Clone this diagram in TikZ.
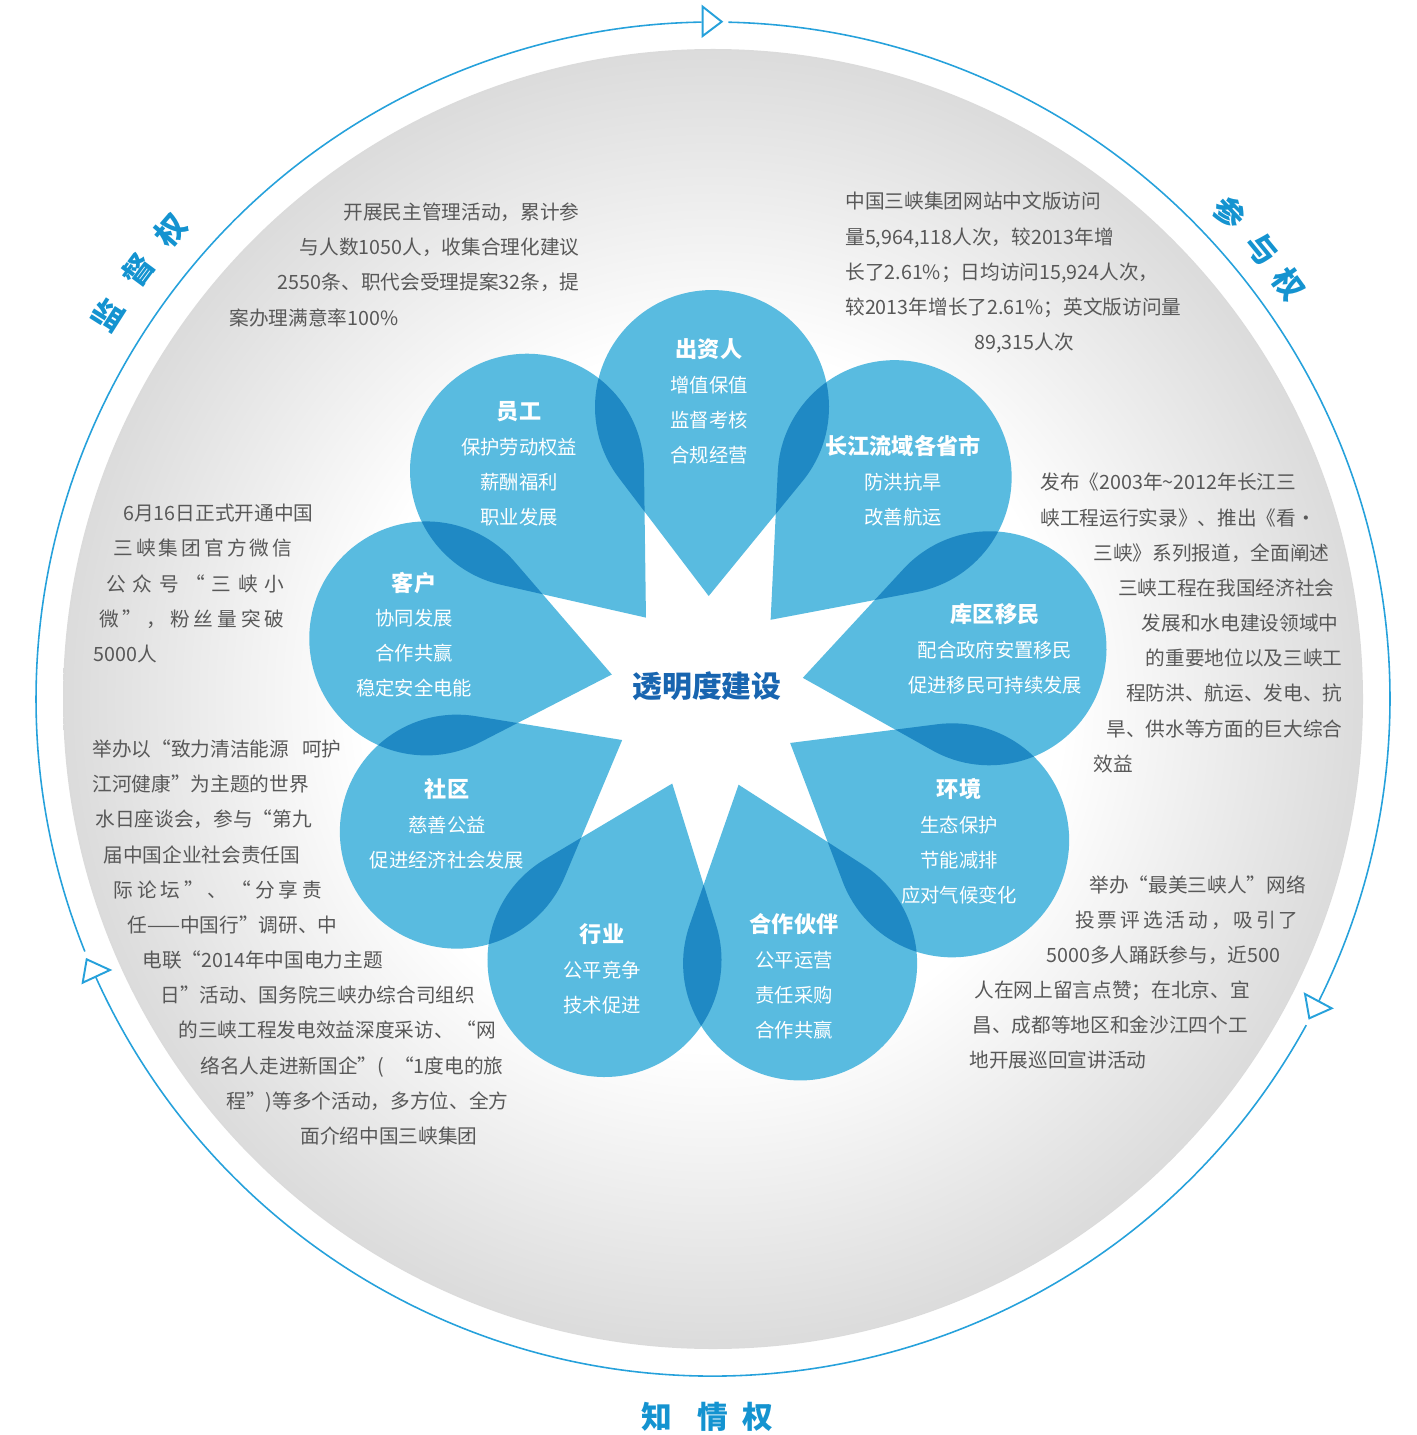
\documentclass[tikz,border=0pt]{standalone}
\usepackage{fontspec}
\setmainfont{Noto Sans CJK SC}
\usepackage{tikz}
\usetikzlibrary{calc}
\definecolor{ringblue}{RGB}{38,161,219}
\definecolor{labelblue}{RGB}{20,147,208}
\definecolor{petalblue}{RGB}{89,187,224}
\definecolor{coreblue}{RGB}{24,101,176}
\definecolor{notegray}{RGB}{88,88,88}
\pgfdeclareradialshading{discshade}{\pgfpoint{0bp}{0bp}}{color(0bp)=(white); color(13.5bp)=(white); color(25bp)=(black!14); color(50bp)=(black!14)}
\tikzstyle{ring}=[draw=ringblue, line width=0.9pt]
\tikzstyle{tri}=[draw=ringblue, fill=white, line width=1.1pt, line join=miter]
\tikzstyle{petal}=[fill=petalblue]
\tikzstyle{ptext}=[text=white, align=center, inner sep=0pt, font=\fontsize{11}{19.84}\selectfont]
\tikzstyle{note}=[text=notegray, inner sep=0pt, font=\fontsize{11.2}{13}\selectfont, text height=9.4pt, text depth=1.3pt]
\tikzstyle{ringlabel}=[text=labelblue, inner sep=0pt, font=\fontsize{17.5}{20}\selectfont\bfseries]
\newcommand{\ptitle}[1]{{\fontsize{12.6}{19.84}\selectfont\bfseries #1}}

\begin{document}
\begin{tikzpicture}[x=0.02cm, y=0.02cm]
    \useasboundingbox (0,0) rectangle (1416,-1435);
    \coordinate (O) at (713,-699);
    \coordinate (C0) at (707,-693);

    % grey disc
    \shade[shading=discshade] (O) circle[radius=650];

    % outer ring, three open triangles
    \draw[ring] ($(O)+(88.7:677)$) arc[start angle=88.7, end angle=-26.5, radius=677];
    \draw[ring] ($(O)+(-28.8:677)$) arc[start angle=-28.8, end angle=-155.75, radius=677];
    \draw[ring] ($(O)+(201.9:677)$) arc[start angle=201.9, end angle=90.96, radius=677];
    \draw[tri] (702.7,-6.7) -- (721.7,-21.7) -- (702.7,-36) -- cycle;
    \draw[tri] (86.7,-959.3) -- (110,-970) -- (82.7,-982.7) -- cycle;
    \draw[tri] (1305,-994) -- (1331.7,-1008.3) -- (1309.3,-1018.3) -- cycle;

    % ring labels
    \foreach \ch/\a/\r [count=\i] in {监/147.6/57.6, 督/143.3/53.3, 权/139.2/49.2}
        \node[ringlabel, rotate=\r] (jd\i) at ($(O)+(\a:717)$) {\ch};
    \foreach \ch/\a/\r [count=\i] in {参/43.3/-46.7, 与/39.3/-50.7, 权/35.8/-54.2}
        \node[ringlabel, rotate=\r] (cy\i) at ($(O)+(\a:710)$) {\ch};
    \foreach \ch/\x [count=\i] in {知/657, 情/713, 权/758}
        \node[ringlabel] (zq\i) at (\x,-1417) {\ch};

    % petals
    \begin{scope}[blend group=multiply]
        \foreach \a in {89,49,...,-231}
            \fill[petal, shift={(C0)}, rotate=\a] (97,0) -- (213.65,-91.95)
                arc[start angle=-128.2, end angle=128.2, radius=117] -- cycle;
    \end{scope}

    \node[text=coreblue, font=\fontsize{17}{20}\selectfont\bfseries] (core) at (707,-686) {透明度建设};

    \node[ptext] (investor) at (709,-401.5) {\ptitle{出资人}\\增值保值\\监督考核\\合规经营};
    \node[ptext] (staff) at (519,-464) {\ptitle{员工}\\保护劳动权益\\薪酬福利\\职业发展};
    \node[ptext] (province) at (903,-481) {\ptitle{长江流域各省市}\\防洪抗旱\\改善航运};
    \node[ptext] (migrant) at (995,-648.5) {\ptitle{库区移民}\\配合政府安置移民\\促进移民可持续发展};
    \node[ptext] (environ) at (959,-841) {\ptitle{环境}\\生态保护\\节能减排\\应对气候变化};
    \node[ptext] (partner) at (794,-976) {\ptitle{合作伙伴}\\公平运营\\责任采购\\合作共赢};
    \node[ptext] (industry) at (602,-969) {\ptitle{行业}\\公平竞争\\技术促进};
    \node[ptext] (community) at (447,-824) {\ptitle{社区}\\慈善公益\\促进经济社会发展};
    \node[ptext] (customer) at (414,-634.5) {\ptitle{客户}\\协同发展\\合作共赢\\稳定安全电能};

    % grey notes
    \foreach \an/\x/\y/\t [count=\i] in {
        east/580/212/{开展民主管理活动，累计参},
        east/580/247/{与人数1050人，收集合理化建议},
        east/580/282/{2550条、职代会受理提案32条，提},
        west/229/318/{案办理满意率100\%}}
        \node[note, anchor=\an] (dm\i) at (\x,-\y) {\t};

    \foreach \an/\x/\y/\t [count=\i] in {
        west/845/201/{中国三峡集团网站中文版访问},
        west/845/237/{量5,964,118人次，较2013年增},
        west/845/272/{长了2.61\%；日均访问15,924人次，},
        west/845/307/{较2013年增长了2.61\%；英文版访问量},
        center/1024/342/{89,315人次}}
        \node[note, anchor=\an] (web\i) at (\x,-\y) {\t};

    \foreach \an/\x/\y/\t [count=\i] in {
        west/123/513/{6月16日正式开通中国},
        west/113/548/{\makebox[3.58cm][s]{三 峡 集 团 官 方 微 信}},
        west/106/584/{\makebox[3.56cm][s]{公 众 号 “ 三 峡 小}},
        west/99/619/{\makebox[3.7cm][s]{微 ” ， 粉 丝 量 突 破}},
        west/93/654/{5000人}}
        \node[note, anchor=\an] (wx\i) at (\x,-\y) {\t};

    \foreach \an/\x/\y/\t [count=\i] in {
        west/1040/482/{发布《2003年\textasciitilde 2012年长江三},
        west/1040/518/{峡工程运行实录》、推出《看•},
        east/1330/553/{三峡》系列报道，全面阐述},
        east/1335/588/{三峡工程在我国经济社会},
        east/1339/623/{发展和水电建设领域中},
        east/1343/658/{的重要地位以及三峡工},
        east/1343/693/{程防洪、航运、发电、抗},
        east/1343/729/{旱、供水等方面的巨大综合},
        west/1093/764/{效益}}
        \node[note, anchor=\an] (fb\i) at (\x,-\y) {\t};

    \foreach \an/\x/\y/\t [count=\i] in {
        west/92/749/{举办以“致力清洁能源\hspace{0.26cm}呵护},
        west/92/784/{江河健康”为主题的世界},
        west/95/819/{水日座谈会，参与“第九},
        west/103/855/{届中国企业社会责任国},
        west/113/890/{\makebox[4.18cm][s]{际 论 坛 ” 、 “ 分 享 责}},
        west/127/925/{任——中国行”调研、中},
        west/142/960/{电联“2014年中国电力主题},
        west/160/995/{日”活动、国务院三峡办综合司组织},
        west/178/1030/{的三峡工程发电效益深度采访、\hspace{0.05cm}“网},
        west/200/1066/{络名人走进新国企”(\hspace{0.2cm}“1度电的旅},
        west/226/1101/{程”)等多个活动，多方位、全方},
        west/300/1136/{面介绍中国三峡集团}}
        \node[note, anchor=\an] (sr\i) at (\x,-\y) {\t};

    \foreach \an/\x/\y/\t [count=\i] in {
        west/1089/885/{举办“最美三峡人”网络},
        west/1075/920/{\makebox[4.36cm][s]{投 票 评 选 活 动 ， 吸 引 了}},
        west/1046/955/{5000多人踊跃参与，近500},
        west/974/990/{人在网上留言点赞；在北京、宜},
        west/972/1025/{昌、成都等地区和金沙江四个工},
        west/969/1060/{地开展巡回宣讲活动}}
        \node[note, anchor=\an] (zm\i) at (\x,-\y) {\t};
\end{tikzpicture}
\end{document}
